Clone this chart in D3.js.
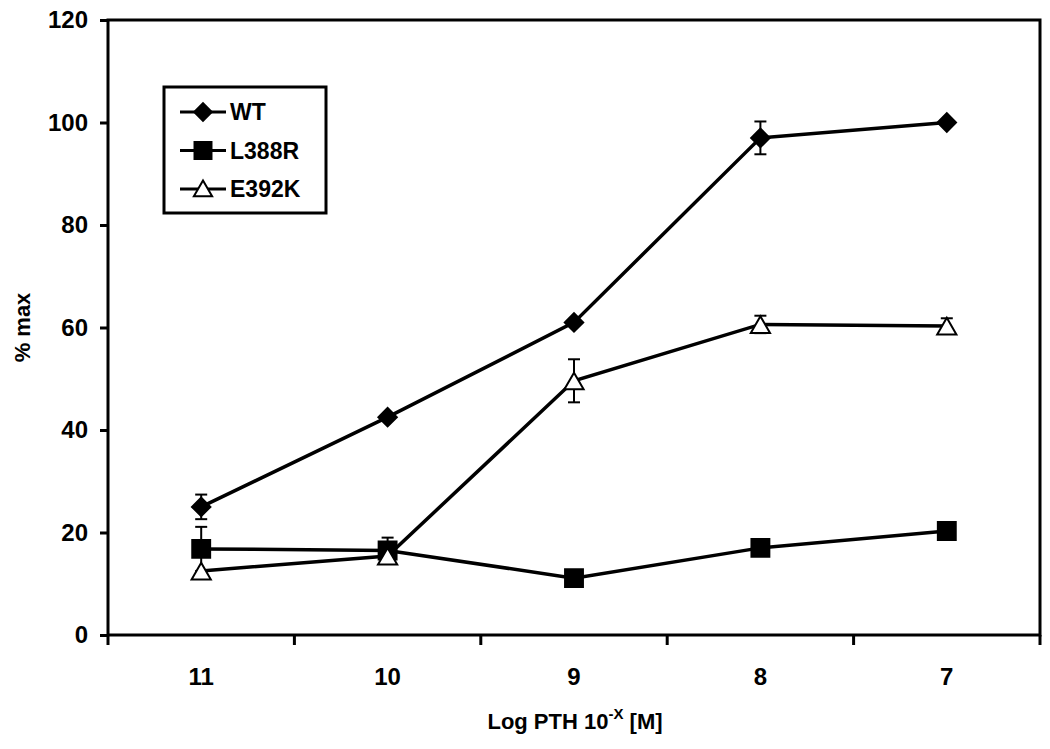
<!DOCTYPE html>
<html>
<head>
<meta charset="utf-8">
<script src="https://cdn.jsdelivr.net/npm/d3@7"></script>
<style>
  body { margin: 0; background: #fff; }
  text { font-family: "Liberation Sans", Arial, sans-serif; font-weight: bold; fill: #000; }
</style>
</head>
<body>
<div class="main"></div>
<script>
var categories = ['11', '10', '9', '8', '7'];
var wtValues = [25, 42.5, 61, 97, 100];
var wtErrors = [2.4, 0, 0, 3.2, 0];
var l388rValues = [16.8, 16.5, 11.1, 17, 20.3];
var l388rErrors = [4.3, 2.5, 0, 0, 0];
var e392kValues = [12.5, 15.4, 49.6, 60.6, 60.3];
var e392kErrors = [0, 0, 4.2, 1.7, 1.5];
var yTicks = [0, 20, 40, 60, 80, 100, 120];

var width = 1050, height = 749;
var plotLeft = 108, plotRight = 1040, plotTop = 20, plotBottom = 635;

var svg = d3.select('.main')
    .append('svg')
    .attr('width', width)
    .attr('height', height);

var x = d3.scaleBand().domain(categories).range([plotLeft, plotRight]);
var y = d3.scaleLinear().domain([0, 120]).range([plotBottom, plotTop]);

// frame
svg.append('rect')
    .attr('x', plotLeft)
    .attr('y', plotTop)
    .attr('width', plotRight - plotLeft)
    .attr('height', plotBottom - plotTop)
    .style('fill', 'none')
    .style('stroke', '#000')
    .style('stroke-width', '3px');

// y axis
var yAxis = svg.append('g')
    .attr('transform', 'translate(' + [plotLeft, 0] + ')')
    .call(d3.axisLeft(y).tickValues(yTicks).tickSize(8).tickPadding(12));
yAxis.select('.domain').remove();
yAxis.selectAll('line').style('stroke-width', '3px');
yAxis.selectAll('text').attr('font-family', null).style('font-size', '24px');

// x axis: ticks at band edges
var xAxis = svg.append('g')
    .attr('transform', 'translate(' + [0, plotBottom] + ')');
var edges = categories.map(function (c) { return x(c); }).concat([plotRight]);
xAxis.selectAll('.xtick')
    .data(edges)
    .enter()
    .append('line')
    .attr('class', 'xtick')
    .attr('x1', function (d) { return d; })
    .attr('x2', function (d) { return d; })
    .attr('y1', 0)
    .attr('y2', 10)
    .style('stroke', '#000')
    .style('stroke-width', '3px');
xAxis.selectAll('.xlabel')
    .data(categories)
    .enter()
    .append('text')
    .attr('class', 'xlabel')
    .attr('x', function (d) { return x(d) + x.bandwidth() / 2; })
    .attr('y', 50)
    .attr('text-anchor', 'middle')
    .style('font-size', '24px')
    .text(function (d) { return d; });

// axis titles
svg.append('text')
    .attr('transform', 'translate(' + [30, (plotTop + plotBottom) / 2] + ') rotate(-90)')
    .attr('text-anchor', 'middle')
    .style('font-size', '22px')
    .text('% max');

var xt = svg.append('text')
    .attr('x', 575)
    .attr('y', 729)
    .attr('text-anchor', 'middle')
    .style('font-size', '22px');
xt.append('tspan').text('Log PTH 10');
xt.append('tspan').attr('dy', -10).style('font-size', '15px').text('-X');
xt.append('tspan').attr('dy', 10).text(' [M]');

// diamond = square rotated 45deg
var series = [
    { name: 'WT', values: wtValues, errors: wtErrors, symbol: d3.symbolSquare, size: 170, rotate: 45, dy: 0, fill: '#000' },
    { name: 'L388R', values: l388rValues, errors: l388rErrors, symbol: d3.symbolSquare, size: 320, rotate: 0, dy: 0, fill: '#000' },
    { name: 'E392K', values: e392kValues, errors: e392kErrors, symbol: d3.symbolTriangle, size: 160, rotate: 0, dy: 3, fill: '#fff' }
];

function cx(i) { return x(categories[i]) + x.bandwidth() / 2; }

var line = d3.line()
    .x(function (d, i) { return cx(i); })
    .y(function (d) { return y(d); });

// error bars
series.forEach(function (s) {
    var g = svg.append('g');
    s.values.forEach(function (v, i) {
        if (!s.errors[i]) return;
        var xx = cx(i);
        var y1 = y(v + s.errors[i]), y2 = y(v - s.errors[i]);
        g.append('line').attr('x1', xx).attr('x2', xx).attr('y1', y1).attr('y2', y2)
            .style('stroke', '#000').style('stroke-width', '2px');
        [y1, y2].forEach(function (yy) {
            g.append('line').attr('x1', xx - 6).attr('x2', xx + 6).attr('y1', yy).attr('y2', yy)
                .style('stroke', '#000').style('stroke-width', '2px');
        });
    });
});

// lines and markers
series.forEach(function (s) {
    svg.append('path')
        .attr('d', line(s.values))
        .style('fill', 'none')
        .style('stroke', '#000')
        .style('stroke-width', '3.5px');
});
series.forEach(function (s) {
    svg.selectAll(null)
        .data(s.values)
        .enter()
        .append('path')
        .attr('d', d3.symbol().type(s.symbol).size(s.size))
        .attr('transform', function (d, i) {
            return 'translate(' + [cx(i), y(d) + s.dy] + ') rotate(' + s.rotate + ')';
        })
        .style('fill', s.fill)
        .style('stroke', '#000')
        .style('stroke-width', '2px');
});

// legend
var legend = svg.append('g');
legend.append('rect')
    .attr('x', 164)
    .attr('y', 87)
    .attr('width', 162)
    .attr('height', 126)
    .style('fill', '#fff')
    .style('stroke', '#000')
    .style('stroke-width', '3px');
series.forEach(function (s, i) {
    var ly = 112 + i * 38.5;
    legend.append('line')
        .attr('x1', 180).attr('x2', 226).attr('y1', ly).attr('y2', ly)
        .style('stroke', '#000').style('stroke-width', '3px');
    legend.append('path')
        .attr('d', d3.symbol().type(s.symbol).size(s.size * 0.9))
        .attr('transform', 'translate(' + [203, ly + s.dy * 0.7] + ') rotate(' + s.rotate + ')')
        .style('fill', s.fill)
        .style('stroke', '#000')
        .style('stroke-width', '2px');
    legend.append('text')
        .attr('x', 230)
        .attr('y', ly + 8)
        .style('font-size', '23px')
        .text(s.name);
});
</script>
</body>
</html>
